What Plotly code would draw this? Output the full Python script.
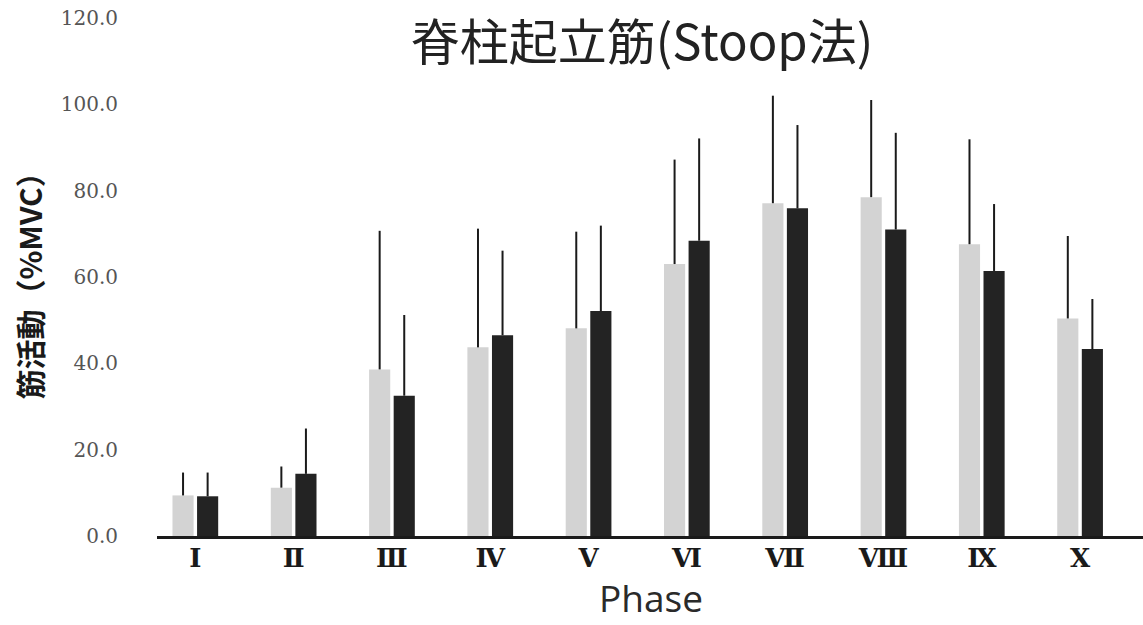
import plotly.graph_objects as go

# Phase labels (Roman numerals) and erector spinae activity, Stoop method
phases = ["Ⅰ", "Ⅱ", "Ⅲ", "Ⅳ", "Ⅴ", "Ⅵ", "Ⅶ", "Ⅷ", "Ⅸ", "Ⅹ"]

light_mean = [9.4, 11.2, 38.6, 43.7, 48.1, 63.0, 77.1, 78.5, 67.6, 50.4]
light_sd = [5.3, 4.9, 32.1, 27.5, 22.4, 24.2, 24.9, 22.5, 24.3, 19.1]

dark_mean = [9.2, 14.4, 32.5, 46.5, 52.1, 68.4, 75.9, 71.0, 61.4, 43.3]
dark_sd = [5.5, 10.5, 18.7, 19.6, 19.8, 23.7, 19.3, 22.4, 15.5, 11.6]

y_ticks = [0, 20, 40, 60, 80, 100, 120]
y_tick_text = [f"{v:.1f}" for v in y_ticks]

fig = go.Figure()

fig.add_trace(go.Bar(
    x=phases, y=light_mean,
    marker=dict(color="#d3d3d3", line=dict(width=0)),
    error_y=dict(type="data", symmetric=False, array=light_sd,
                 arrayminus=[0] * len(light_sd),
                 color="#1a1a1a", thickness=2, width=0),
    showlegend=False,
))
fig.add_trace(go.Bar(
    x=phases, y=dark_mean,
    marker=dict(color="#232323", line=dict(width=0)),
    error_y=dict(type="data", symmetric=False, array=dark_sd,
                 arrayminus=[0] * len(dark_sd),
                 color="#1a1a1a", thickness=2, width=0),
    showlegend=False,
))

fig.update_layout(
    width=1143, height=625,
    margin=dict(l=157, r=0, t=18, b=89),
    paper_bgcolor="white", plot_bgcolor="white",
    barmode="group", bargap=0.5, bargroupgap=0.14,
    title=dict(
        text="脊柱起立筋(Stoop法)",
        x=0.5617, xanchor="center", y=0.931, yanchor="middle",
        font=dict(family="Noto Sans CJK JP", size=49, color="#222222"),
    ),
    xaxis=dict(
        type="category",
        range=[-0.39, 9.64],
        showline=True, linecolor="#1a1a1a", linewidth=3,
        ticks="", showgrid=False, zeroline=False,
        ticklabelstandoff=-3,
        tickfont=dict(family="DejaVu Serif", size=26, color="#1a1a1a",
                      weight="bold"),
    ),
    yaxis=dict(
        range=[0, 120],
        tickvals=y_ticks, ticktext=y_tick_text,
        showline=False, showgrid=False, zeroline=False, ticks="",
        ticklabelstandoff=38,
        tickfont=dict(family="DejaVu Serif", size=20, color="#555555"),
    ),
    annotations=[
        dict(text="Phase", xref="paper", yref="paper",
             x=0.501, y=-0.1725, xanchor="center", yanchor="bottom",
             showarrow=False,
             font=dict(family="Open Sans", size=37, color="#2a2a2a")),
        dict(text="<b>筋活動（%MVC）</b>", xref="paper", yref="paper",
             x=-0.1298, y=0.497, xanchor="center", yanchor="middle",
             textangle=-90, showarrow=False,
             font=dict(family="Noto Sans CJK JP", size=30, color="#1a1a1a")),
    ],
)

fig.write_html("out.html")
